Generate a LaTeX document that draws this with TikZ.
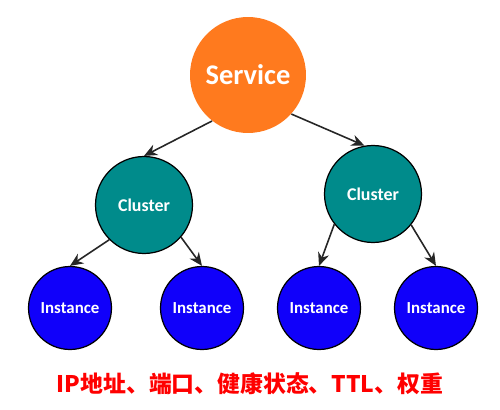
\documentclass[tikz,border=0pt]{standalone}
\usepackage{fontspec}
\setmainfont{Carlito}
\newfontfamily\cjk{Noto Sans CJK SC}
\usepackage{tikz}
\usetikzlibrary{arrows.meta}
\definecolor{svcorange}{RGB}{255,122,30}
\definecolor{cluteal}{RGB}{0,139,139}
\definecolor{instblue}{RGB}{16,0,250}
\begin{document}
\begin{tikzpicture}[x=0.02cm, y=-0.02cm,
  svc/.style={circle, fill=svcorange, text=white, inner sep=0pt,
    font=\bfseries\fontsize{16.2}{18}\selectfont, minimum size=2.32cm},
  clu/.style={circle, draw=black, line width=0.7pt, fill=cluteal, text=white, inner sep=0pt,
    font=\bfseries\fontsize{10.2}{12}\selectfont, minimum size=1.94cm},
  inst/.style={circle, draw=black, line width=0.7pt, fill=instblue, text=white, inner sep=0pt,
    font=\bfseries\fontsize{9.6}{11}\selectfont, minimum size=1.66cm},
  link/.style={-{Stealth[length=7.5pt,width=6.5pt]}, line width=0.9pt, draw=black!85}]
  \useasboundingbox (0,0) rectangle (500,409);
  % draw service and clusters
  \node[svc] (service) at (248,75) {Service};
  \node[clu] (c1) at (144,205) {Cluster};
  \node[clu] (c2) at (373,194) {Cluster};
  % draw instances
  \foreach \x [count=\step from 1] in {70,202,319,436}
    \node[inst] (i\step) at (\x,308) {Instance};
  % draw links
  \draw[link] (service.232) -- (c1.north);
  \draw[link] (service.318) -- (c2.100);
  \draw[link] (c1.225) -- (i1.north);
  \draw[link] (c1.319) -- (i2.north);
  \draw[link] (c2.218) -- (i3.north);
  \draw[link] (c2.321) -- (i4.north);
  % draw caption
  \node[text=red, font=\cjk\bfseries\fontsize{13}{15}\selectfont] (caption) at (250,384)
    {IP地址、端口、健康状态、TTL、权重};
\end{tikzpicture}
\end{document}
